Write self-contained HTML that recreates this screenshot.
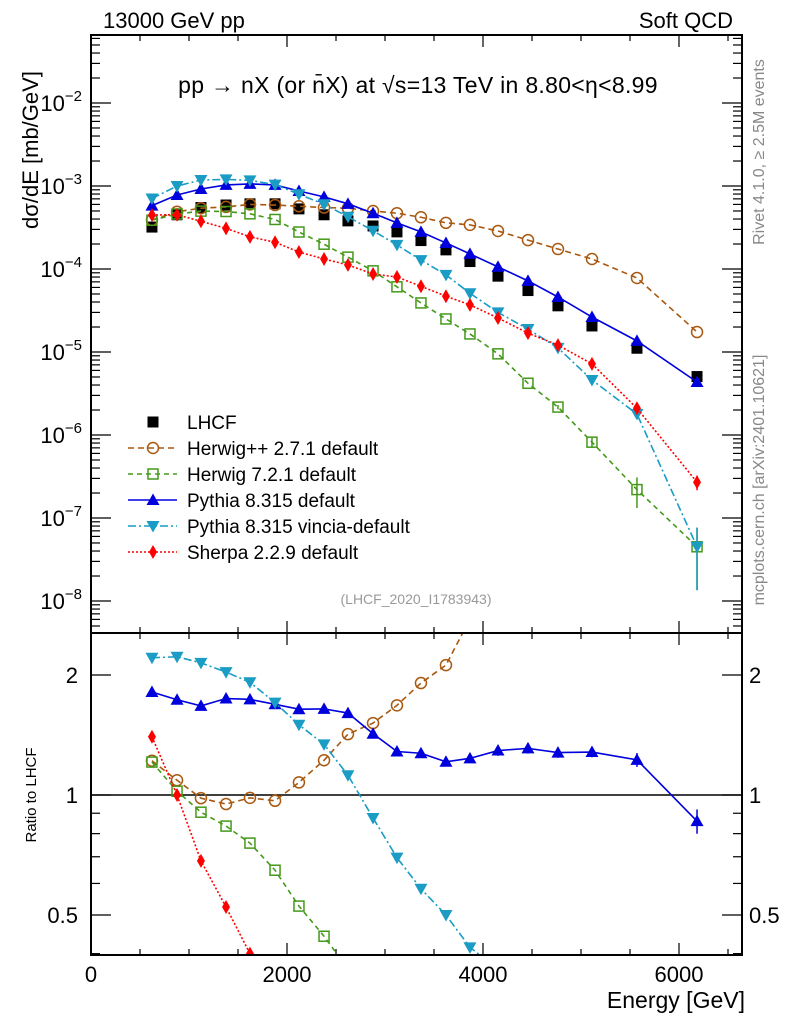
<!DOCTYPE html>
<html><head><meta charset="utf-8"><style>
html,body{margin:0;padding:0;background:#fff;overflow:hidden;width:786px;height:1024px;}
svg{display:block;font-family:"Liberation Sans",Arial,sans-serif;}
</style></head><body>
<svg id="chart" width="786" height="1024" viewBox="0 0 786 1024" xmlns="http://www.w3.org/2000/svg">
<defs>
<clipPath id="clipMain"><rect x="91" y="35" width="651" height="598"/></clipPath>
<clipPath id="clipRatio"><rect x="91" y="633" width="651" height="322"/></clipPath>
</defs>
<text x="103" y="28" font-size="22">13000 GeV pp</text>
<text x="733" y="28" font-size="22" text-anchor="end">Soft QCD</text>
<text x="418" y="93" font-size="23" letter-spacing="0.3" text-anchor="middle">pp  →  nX (or n̄X) at √s=13 TeV in 8.80&lt;η&lt;8.99</text>
<text transform="translate(38,150) rotate(-90)" font-size="22" text-anchor="middle">dσ/dE [mb/GeV]</text>
<text transform="translate(36,795) rotate(-90)" font-size="15" text-anchor="middle">Ratio to LHCF</text>
<text transform="translate(764,152) rotate(-90)" font-size="16" fill="#888" text-anchor="middle">Rivet 4.1.0, ≥ 2.5M events</text>
<text transform="translate(764,480) rotate(-90)" font-size="16" fill="#888" text-anchor="middle">mcplots.cern.ch [arXiv:2401.10621]</text>
<text x="416" y="604" font-size="14" fill="#999" text-anchor="middle">(LHCF_2020_I1783943)</text>
<text x="745" y="1008" font-size="23" text-anchor="end">Energy [GeV]</text>
<g id="axes"></g>
<g id="mainMarks" clip-path="url(#clipMain)"></g>
<g id="ratioMarks" clip-path="url(#clipRatio)"></g>
<g id="legend"></g>
<rect x="91" y="35" width="651" height="598" fill="none" stroke="#000" stroke-width="2"/>
<rect x="91" y="633" width="651" height="322" fill="none" stroke="#000" stroke-width="2"/>
</svg>
<script>
const energies = [622,878,1122,1378,1622,1878,2122,2378,2622,2878,3122,3367,3622,3867,4153,4459,4765,5112,5571,6184];
const lhcf = [3.2e-4,4.5e-4,5.5e-4,5.9e-4,6.1e-4,6.1e-4,5.3e-4,4.5e-4,3.8e-4,3.3e-4,2.8e-4,2.2e-4,1.7e-4,1.23e-4,8.2e-5,5.5e-5,3.6e-5,2.06e-5,1.11e-5,5.06e-6];
const herwigpp = [3.9e-4,4.9e-4,5.4e-4,5.6e-4,6.0e-4,5.9e-4,5.7e-4,5.5e-4,5.4e-4,5.0e-4,4.7e-4,4.2e-4,3.6e-4,3.4e-4,2.87e-4,2.23e-4,1.74e-4,1.32e-4,7.8e-5,1.74e-5];
const herwig7 = [3.87e-4,4.6e-4,4.98e-4,4.93e-4,4.62e-4,3.95e-4,2.79e-4,1.99e-4,1.39e-4,9.5e-5,6.1e-5,3.9e-5,2.5e-5,1.65e-5,9.5e-6,4.2e-6,2.17e-6,8.2e-7,2.2e-7,4.5e-8];
const pythia = [5.8e-4,7.8e-4,9.2e-4,1.03e-3,1.06e-3,1.03e-3,8.7e-4,7.4e-4,6.1e-4,4.7e-4,3.6e-4,2.8e-4,2.06e-4,1.52e-4,1.06e-4,7.2e-5,4.6e-5,2.64e-5,1.36e-5,4.35e-6];
const vincia = [7.07e-4,1.0e-3,1.18e-3,1.2e-3,1.17e-3,1.04e-3,7.95e-4,6.03e-4,4.26e-4,2.89e-4,1.95e-4,1.28e-4,8.5e-5,5.1e-5,3.0e-5,1.89e-5,1.12e-5,4.6e-6,1.79e-6,4.5e-8];
const sherpa = [4.48e-4,4.5e-4,3.76e-4,3.09e-4,2.44e-4,2.1e-4,1.6e-4,1.32e-4,1.12e-4,8.7e-5,8.0e-5,6.2e-5,4.7e-5,3.7e-5,2.57e-5,1.69e-5,1.21e-5,7.2e-6,2.1e-6,2.7e-7];
const herwig7Err = [0,0,0,0,0,0,0,0,0,0,0,0,0,0,0,0,0.06,0.15,0.4,0.7];
const pythiaErr = [0,0,0,0,0,0,0,0,0,0,0,0,0.02,0.02,0.03,0.03,0.03,0.03,0.04,0.07];
const vinciaErr = [0,0,0,0,0,0,0,0,0,0,0,0,0,0,0,0,0,0.05,0.1,0.7];
const sherpaErr = [0,0,0,0,0,0,0,0,0,0,0,0,0,0,0,0,0,0.05,0.05,0.2];
const xTicks = [0,2000,4000,6000];
const yTickExps = [-8,-7,-6,-5,-4,-3,-2];
const ratioTickLabels = ["0.5","1","2"];
const ratioTicks = [0.5,1,2];
const legendLabels = ["LHCF","Herwig++ 2.7.1 default","Herwig 7.2.1 default","Pythia 8.315 default","Pythia 8.315 vincia-default","Sherpa 2.2.9 default"];

const NS = "http://www.w3.org/2000/svg";
const X0=91, X1=742, YT=35, YB=633, RB=955;
function xs(e){return X0 + e*0.098;}
function ys(v){return 103 - (Math.log10(v)+2)*83;}
function rs(r){return 795 - Math.log2(r)*120;}
function mk(tag, attrs, parent){const el=document.createElementNS(NS,tag);for(const k in attrs)el.setAttribute(k,attrs[k]);parent.appendChild(el);return el;}

const axes=document.getElementById('axes');
for(let e=0;e<=6600;e+=500){
  const x=xs(e); const maj=(e%2000===0); const L=maj?12:6;
  for(const [yb,dir] of [[YB,-1],[YT,1],[RB,-1],[633,1]]){
    const t=mk('line',{x1:x,x2:x,y1:yb,y2:yb+dir*L,stroke:'#000','stroke-width':1.2},axes);
    
    
  }
}
xTicks.forEach(e=>{
  const t=mk('text',{x:xs(e),y:982,'font-size':22,'text-anchor':'middle'},axes);
  
  
  t.textContent=String(e);
});
for(let ex=-9;ex<=-1;ex++){
  for(let m=1;m<10;m++){
    const v=m*Math.pow(10,ex); const y=ys(v);
    if(y<YT||y>YB) continue;
    const L=(m===1)?20:9;
    const a=mk('line',{x1:X0,x2:X0+L,y1:y,y2:y,stroke:'#000','stroke-width':1.2},axes);
    
    
    const b=mk('line',{x1:X1,x2:X1-L,y1:y,y2:y,stroke:'#000','stroke-width':1.2},axes);
    
    
  }
}
yTickExps.forEach(ex=>{
  const t=mk('text',{x:82,y:ys(Math.pow(10,ex))+8,'font-size':22,'text-anchor':'end'},axes);
  
  
  t.textContent='10';
  const s=mk('tspan',{dy:-10,'font-size':15},t); s.textContent='−'+Math.abs(ex);
});
[0.4,0.5,0.6,0.7,0.8,0.9,1,2].forEach(r=>{
  const y=rs(r); if(y<633||y>RB) return;
  const L=ratioTicks.includes(r)?20:9;
  const a=mk('line',{x1:X0,x2:X0+L,y1:y,y2:y,stroke:'#000','stroke-width':1.2},axes);
  
  
  const b=mk('line',{x1:X1,x2:X1-L,y1:y,y2:y,stroke:'#000','stroke-width':1.2},axes);
  
  
});
ratioTicks.forEach((r,i)=>{
  const t=mk('text',{x:78,y:rs(r)+8,'font-size':22,'text-anchor':'end'},axes);
  
  
  t.textContent=ratioTickLabels[i];
  const t2=mk('text',{x:749,y:rs(r)+8,'font-size':22},axes);
  
  
  t2.textContent=ratioTickLabels[i];
});
const unity=mk('line',{x1:X0,x2:X1,y1:rs(1),y2:rs(1),stroke:'#000','stroke-width':1.5},axes);



function marker(type,x,y,color,parent){
  let el;
  if(type==='sqf') el=mk('rect',{x:x-5.5,y:y-5.5,width:11,height:11,fill:'#000'},parent);
  else if(type==='circ') el=mk('circle',{cx:x,cy:y,r:5.5,fill:'none',stroke:color,'stroke-width':1.5},parent);
  else if(type==='sqo') el=mk('rect',{x:x-5,y:y-5,width:10,height:10,fill:'none',stroke:color,'stroke-width':1.5},parent);
  else if(type==='tup') el=mk('polygon',{points:`${x},${y-6.5} ${x-6.5},${y+5} ${x+6.5},${y+5}`,fill:color},parent);
  else if(type==='tdn') el=mk('polygon',{points:`${x},${y+6.5} ${x-6.5},${y-5} ${x+6.5},${y-5}`,fill:color},parent);
  else el=mk('polygon',{points:`${x},${y-7} ${x-4},${y} ${x},${y+7} ${x+4},${y}`,fill:color},parent);
  return el;
}
const series=[
  {name:'herwigpp',vals:herwigpp,err:null,color:'#a9580f',dash:'6,4',m:'circ'},
  {name:'herwig7',vals:herwig7,err:herwig7Err,color:'#44991a',dash:'5,4',m:'sqo'},
  {name:'pythia',vals:pythia,err:pythiaErr,color:'#0000dd',dash:'',m:'tup'},
  {name:'vincia',vals:vincia,err:vinciaErr,color:'#1a9cc4',dash:'8,3,2,3',m:'tdn'},
  {name:'sherpa',vals:sherpa,err:sherpaErr,color:'#ff0000',dash:'2,2',m:'dia'}
];
const gm=document.getElementById('mainMarks'), gr=document.getElementById('ratioMarks');
energies.forEach((e,i)=>{
  const p=marker('sqf',xs(e),ys(lhcf[i]),'#000',gm);
  
  
});
series.forEach(s=>{
  const ptsM=energies.map((e,i)=>xs(e)+','+ys(s.vals[i])).join(' ');
  const ptsR=energies.map((e,i)=>xs(e)+','+rs(s.vals[i]/lhcf[i])).join(' ');
  const lm=mk('polyline',{points:ptsM,fill:'none',stroke:s.color,'stroke-width':1.6,'stroke-dasharray':s.dash},gm);
  
  
  const lr=mk('polyline',{points:ptsR,fill:'none',stroke:s.color,'stroke-width':1.6,'stroke-dasharray':s.dash},gr);
  
  
  energies.forEach((e,i)=>{
    const x=xs(e);
    const v=s.vals[i], r=v/lhcf[i];
    if(s.err && s.err[i]>0){
      const f=s.err[i];
      const eb=mk('line',{x1:x,x2:x,y1:ys(v*(1+f)),y2:ys(Math.max(v*(1-f),1e-12)),stroke:s.color,'stroke-width':1.5},gm);
      
      
      const er=mk('line',{x1:x,x2:x,y1:rs(r*(1+f)),y2:rs(Math.max(r*(1-f),1e-6)),stroke:s.color,'stroke-width':1.5},gr);
      
      
    }
    const p=marker(s.m,x,ys(v),s.color,gm);
    
    
    const ry=rs(r);
    if(ry<=RB+1){
      const q=marker(s.m,x,ry,s.color,gr);
      
      
    }
  });
});
const gl=document.getElementById('legend');
const legStyles=[null].concat(series);
legendLabels.forEach((lab,i)=>{
  const y=422+i*26;
  const g=mk('g',{},gl);
  
  
  const s=legStyles[i];
  if(s){
    mk('line',{x1:128,x2:177,y1:y,y2:y,stroke:s.color,'stroke-width':1.5,'stroke-dasharray':s.dash},g);
    marker(s.m,153,y,s.color,g);
  } else marker('sqf',153,y,'#000',g);
  const t=mk('text',{x:187,y:y+7,'font-size':19},g);
  t.textContent=lab;
});
</script>
</body></html>
